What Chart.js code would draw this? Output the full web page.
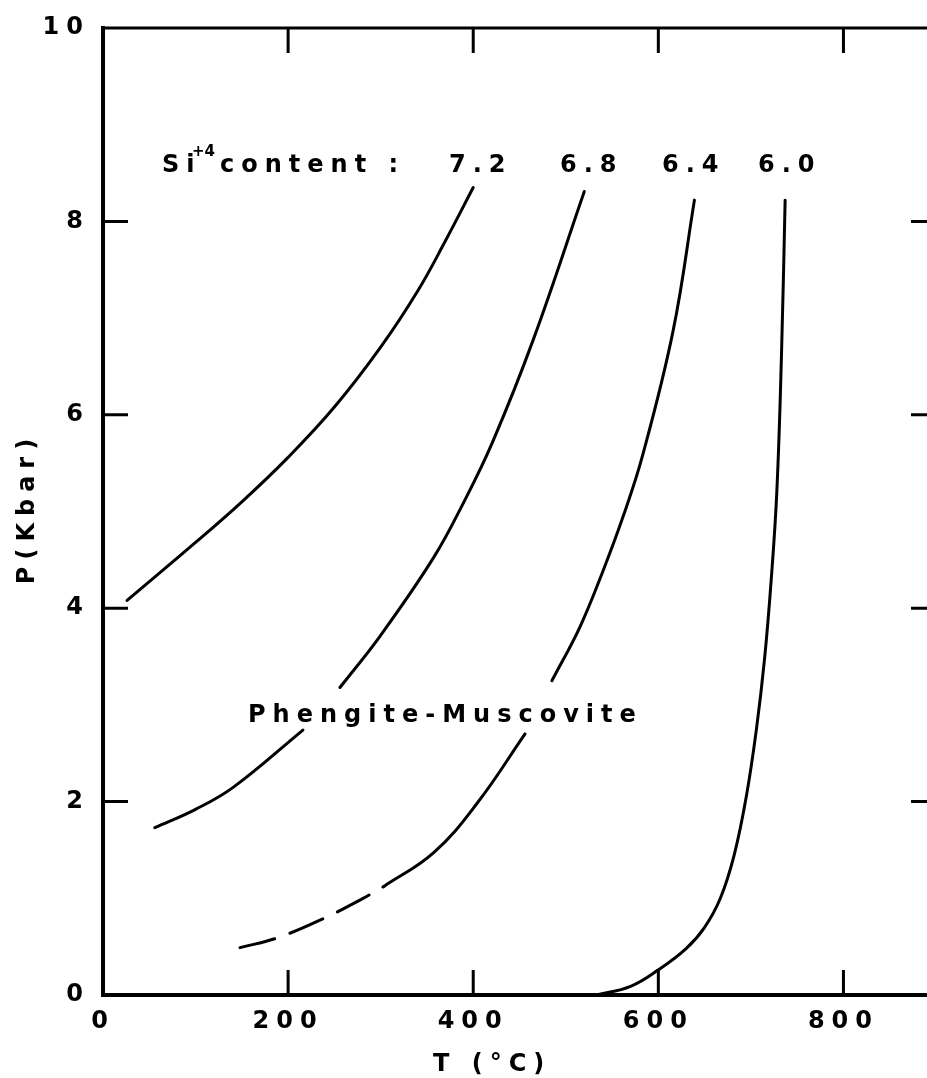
<!DOCTYPE html>
<html>
<head>
<meta charset="utf-8">
<script src="https://cdn.jsdelivr.net/npm/chart.js@4"></script>
<style>
  html, body { margin: 0; padding: 0; background: #fff; overflow: hidden; }
  canvas { display: block; }
</style>
</head>
<body>
<canvas id="chart" width="940" height="1078"></canvas>
<script>
// Si+4 content curves, T in deg C, P in kbar
const seriesLabels = ["7.2", "6.8", "6.4", "6.0"];

const tempSi72 = [26, 100, 150, 200, 250, 300, 340, 370, 400];
const presSi72 = [4.08, 4.68, 5.1, 5.56, 6.08, 6.7, 7.28, 7.8, 8.35];

// null breaks the line where the label sits
const tempSi68 = [56, 100, 141, 216, null, 256, 300, 357, 390, 421, 465, 520];
const presSi68 = [1.73, 1.92, 2.15, 2.74, null, 3.18, 3.72, 4.52, 5.1, 5.72, 6.78, 8.31];

const tempSi64Dash = [148, 188, 238, 281, 303];
const presSi64Dash = [0.49, 0.59, 0.79, 1.0, 1.12];

const tempSi64 = [303, 357, 404, 456, null, 485, 515, 540, 562, 583, 616, 639];
const presSi64 = [1.12, 1.47, 1.98, 2.70, null, 3.25, 3.8, 4.38, 4.95, 5.58, 6.87, 8.22];

const tempSi60 = [533, 570, 600, 630, 650, 667, 682, 695, 706, 715, 722, 728, 733, 737];
const presSi60 = [0, 0.09, 0.26, 0.48, 0.7, 1.0, 1.45, 2.05, 2.75, 3.5, 4.3, 5.2, 6.6, 8.22];

const xTicks = [0, 200, 400, 600, 800];
const yTicks = [0, 2, 4, 6, 8, 10];

const FONT = "'DejaVu Sans', Verdana, sans-serif";
const SPACING = "7px";

function toPoints(xs, ys) {
  return xs.map((x, i) => ({ x: x, y: ys[i] }));
}

function line(label, xs, ys, dash) {
  return {
    label: label,
    data: toPoints(xs, ys),
    borderColor: "#000",
    borderWidth: 3,
    borderDash: dash || [],
    pointRadius: 0,
    fill: false,
    tension: 0.4,
    borderCapStyle: "round"
  };
}

// inward ticks + frame
const framePlugin = {
  id: "frame",
  beforeDraw(chart) {
    chart.ctx.letterSpacing = SPACING;
  },
  afterDraw(chart) {
    const ctx = chart.ctx;
    const a = chart.chartArea;
    const xs = chart.scales.x, ys = chart.scales.y;
    ctx.save();
    ctx.letterSpacing = "0px";
    ctx.strokeStyle = "#000";
    ctx.lineCap = "butt";

    ctx.lineWidth = 3;
    xTicks.slice(1).forEach(v => {
      const px = xs.getPixelForValue(v);
      ctx.beginPath();
      ctx.moveTo(px, a.bottom); ctx.lineTo(px, a.bottom - 25);
      ctx.moveTo(px, a.top); ctx.lineTo(px, a.top + 25);
      ctx.stroke();
    });
    yTicks.slice(1, -1).forEach(v => {
      const py = ys.getPixelForValue(v);
      ctx.beginPath();
      ctx.moveTo(a.left, py); ctx.lineTo(a.left + 25, py);
      ctx.moveTo(a.right, py); ctx.lineTo(a.right - 25, py);
      ctx.stroke();
    });

    ctx.lineWidth = 3;
    ctx.beginPath();
    ctx.moveTo(a.left, a.top); ctx.lineTo(a.right, a.top);
    ctx.moveTo(a.right, a.top); ctx.lineTo(a.right, a.bottom);
    ctx.stroke();
    ctx.lineWidth = 4;
    ctx.beginPath();
    ctx.moveTo(a.left, a.top - 2); ctx.lineTo(a.left, a.bottom);
    ctx.lineTo(a.right, a.bottom);
    ctx.stroke();
    ctx.restore();
  }
};

// text written inside the plot
const labelPlugin = {
  id: "labels",
  afterDraw(chart) {
    const ctx = chart.ctx;
    ctx.save();
    ctx.fillStyle = "#000";
    ctx.textAlign = "left";
    ctx.textBaseline = "alphabetic";

    ctx.font = "bold 24px " + FONT;
    ctx.letterSpacing = SPACING;
    ctx.fillText("Si", 162, 172);
    ctx.font = "bold 15px " + FONT;
    ctx.letterSpacing = "0px";
    ctx.fillText("+4", 192, 156);
    ctx.font = "bold 24px " + FONT;
    ctx.letterSpacing = SPACING;
    ctx.fillText("content :", 220, 172);

    const labelX = [449, 560, 662, 758];
    seriesLabels.forEach((s, i) => ctx.fillText(s, labelX[i], 172));

    ctx.fillText("Phengite-Muscovite", 248, 722);

    // x axis title
    ctx.fillText("T (°C)", 433, 1071);

    // y axis title
    ctx.translate(34, 512);
    ctx.rotate(-Math.PI / 2);
    ctx.textAlign = "center";
    ctx.fillText("P(Kbar)", 4, 0);
    ctx.restore();
  }
};

Chart.defaults.color = "#000";

new Chart(document.getElementById("chart"), {
  type: "line",
  data: {
    datasets: [
      line(seriesLabels[0], tempSi72, presSi72),
      line(seriesLabels[1], tempSi68, presSi68),
      line(seriesLabels[2], tempSi64Dash, presSi64Dash, [36, 16]),
      line(seriesLabels[2], tempSi64, presSi64),
      line(seriesLabels[3], tempSi60, presSi60)
    ]
  },
  options: {
    responsive: false,
    animation: false,
    events: [],
    layout: { padding: { top: 28, right: 4, left: 0, bottom: 0 } },
    plugins: {
      legend: { display: false },
      tooltip: { enabled: false }
    },
    scales: {
      x: {
        type: "linear",
        min: 0,
        max: 900,
        afterBuildTicks: s => { s.ticks = xTicks.map(v => ({ value: v })); },
        afterFit: s => { s.height = 83; },
        grid: { display: false, drawTicks: false },
        border: { display: false },
        ticks: {
          padding: 12,
          font: { family: FONT, size: 24, weight: "bold" }
        }
      },
      y: {
        type: "linear",
        min: 0,
        max: 10,
        afterBuildTicks: s => { s.ticks = yTicks.map(v => ({ value: v })); },
        afterFit: s => { s.width = 103; },
        grid: { display: false, drawTicks: false },
        border: { display: false },
        ticks: {
          padding: 13,
          font: { family: FONT, size: 24, weight: "bold" }
        }
      }
    }
  },
  plugins: [framePlugin, labelPlugin]
});
</script>
</body>
</html>
